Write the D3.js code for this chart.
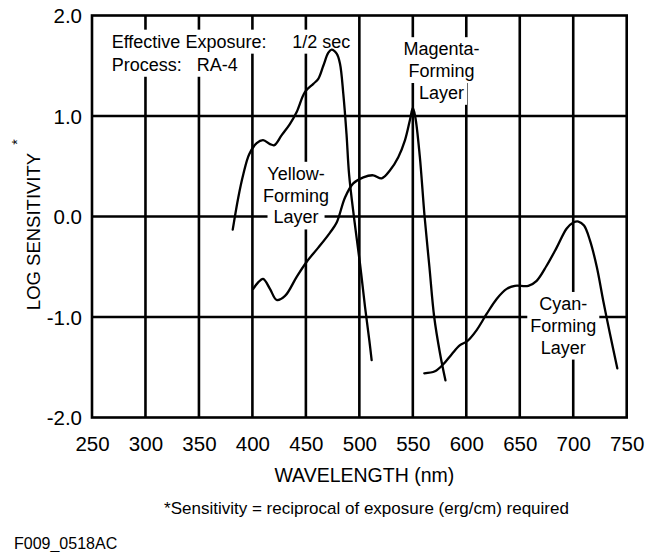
<!DOCTYPE html>
<html>
<head>
<meta charset="utf-8">
<script src="https://cdn.jsdelivr.net/npm/d3@7"></script>
<style>
  html, body { margin: 0; padding: 0; background: #fff; }
  svg { display: block; }
  text { font-family: "Liberation Sans", Arial, Helvetica, sans-serif; fill: #000; }
</style>
</head>
<body>
<svg id="chart" width="663" height="552"></svg>
<script>
// Spectral sensitivity of the three dye-forming layers (log sensitivity vs wavelength)
const wavelengthTicks = [250, 300, 350, 400, 450, 500, 550, 600, 650, 700, 750];
const logTicks = [-2, -1, 0, 1, 2];
const logTickLabels = ["-2.0", "-1.0", "0.0", "1.0", "2.0"];

// [wavelength nm, log sensitivity]
const yellowLayer = [
  [381.6, -0.13], [386.8, 0.19], [391.5, 0.42], [397, 0.62], [404, 0.73],
  [410, 0.76], [416.5, 0.72], [420.5, 0.71], [427.4, 0.81], [435, 0.92],
  [441.4, 1.04], [449.2, 1.24], [457, 1.32], [461.6, 1.37], [466.3, 1.50],
  [471, 1.63], [474, 1.66], [478.8, 1.62], [481.9, 1.52], [485, 1.22],
  [488, 0.82], [490.4, 0.42], [495, -0.01], [500.6, -0.47], [505.3, -0.90],
  [509.3, -1.23], [511.5, -1.43]
];
const magentaLayer = [
  [400.8, -0.72], [405, -0.66], [410, -0.62], [416.4, -0.72], [422.7, -0.83],
  [430.5, -0.79], [441.4, -0.60], [450.8, -0.45], [461.6, -0.31], [472.6, -0.16],
  [478.8, -0.06], [486.6, 0.19], [494.3, 0.33], [503.7, 0.39], [513, 0.41],
  [520.9, 0.38], [528.7, 0.46], [536.4, 0.59], [542.7, 0.76], [547.3, 0.96],
  [550, 1.08], [552.3, 0.99], [556.5, 0.60], [561, 0.0], [565.5, -0.50],
  [570, -1.0], [575.4, -1.36], [580.5, -1.63]
];
const cyanLayer = [
  [560.7, -1.56], [570.7, -1.54], [578.5, -1.47], [586.4, -1.37], [594.1, -1.28],
  [600.9, -1.24], [609.7, -1.13], [619, -0.97], [628.4, -0.82], [637.8, -0.72],
  [645.5, -0.69], [658, -0.69], [665.8, -0.64], [675.1, -0.49], [684.5, -0.31],
  [693.9, -0.12], [700.1, -0.06], [704.8, -0.05], [710.1, -0.09], [715.7, -0.24],
  [722, -0.50], [728.1, -0.84], [734.4, -1.17], [741.2, -1.51]
];

const svg = d3.select("#chart");
const plot = { left: 92, right: 626.7, top: 15.5, bottom: 417.5 };

const x = d3.scaleLinear().domain([250, 750]).range([plot.left, plot.right]);
const y = d3.scaleLinear().domain([-2, 2]).range([plot.bottom, plot.top]);

const gridLayer = svg.append("g");
const boxLayer = svg.append("g");
const curveLayer = svg.append("g");
const textLayer = svg.append("g");

// grid lines
gridLayer.selectAll("line.v")
  .data(wavelengthTicks.slice(1, -1))
  .join("line")
  .attr("x1", d => x(d)).attr("x2", d => x(d))
  .attr("y1", y(2)).attr("y2", y(-2))
  .attr("stroke", "#000").attr("stroke-width", 2.6);
gridLayer.selectAll("line.h")
  .data(logTicks.slice(1, -1))
  .join("line")
  .attr("x1", x(250)).attr("x2", x(750))
  .attr("y1", d => y(d)).attr("y2", d => y(d))
  .attr("stroke", "#000").attr("stroke-width", 2.6);
gridLayer.append("rect")
  .attr("x", x(250)).attr("y", y(2))
  .attr("width", x(750) - x(250)).attr("height", y(-2) - y(2))
  .attr("fill", "none").attr("stroke", "#000").attr("stroke-width", 2.6);

// axes (labels only, lines come from the grid frame)
const xAxis = d3.axisBottom(x).tickValues(wavelengthTicks).tickSize(0).tickPadding(0);
svg.append("g")
  .attr("transform", `translate(0,${y(-2)})`)
  .call(xAxis)
  .call(g => g.select(".domain").remove())
  .call(g => g.selectAll("text")
    .attr("y", 33).attr("dy", 0)
    .style("font-size", "20.5px")
    .style("font-family", '"Liberation Sans", Arial, Helvetica, sans-serif')
    .attr("fill", "#000"));

const yAxis = d3.axisLeft(y).tickValues(logTicks)
  .tickFormat((d, i) => logTickLabels[logTicks.indexOf(d)])
  .tickSize(0).tickPadding(0);
svg.append("g")
  .attr("transform", `translate(${x(250) - 10},0)`)
  .call(yAxis)
  .call(g => g.select(".domain").remove())
  .call(g => g.selectAll("text")
    .attr("x", 0).attr("dy", "0.36em")
    .style("font-size", "20.5px")
    .style("font-family", '"Liberation Sans", Arial, Helvetica, sans-serif')
    .attr("fill", "#000"));

// curves
const line = d3.line()
  .x(d => x(d[0])).y(d => y(d[1]))
  .curve(d3.curveCatmullRom.alpha(0.5));
curveLayer.selectAll("path")
  .data([yellowLayer, magentaLayer, cyanLayer])
  .join("path")
  .attr("d", line)
  .attr("fill", "none")
  .attr("stroke", "#000")
  .attr("stroke-width", 2.3)
  .attr("stroke-linejoin", "round")
  .attr("stroke-linecap", "round");

// text with a white backing that interrupts the grid
function label(str, nm, lg, anchor, size, padX = 3, padY = 2) {
  const t = textLayer.append("text")
    .attr("x", x(nm)).attr("y", y(lg))
    .attr("text-anchor", anchor)
    .style("font-size", size + "px")
    .text(str);
  const b = t.node().getBBox();
  boxLayer.append("rect")
    .attr("x", b.x - padX).attr("y", b.y - padY)
    .attr("width", b.width + 2 * padX).attr("height", b.height + 2 * padY)
    .attr("fill", "#fff");
}

label("Effective Exposure:", 268.4, 1.68, "start", 18);
label("1/2 sec", 437.3, 1.68, "start", 18);
label("Process:", 268.4, 1.45, "start", 18);
label("RA-4", 347.9, 1.45, "start", 18);

const stackGap = 0.217;
["Magenta-", "Forming", "Layer"].forEach((s, i) => label(s, 576.8, 1.605 - i * stackGap, "middle", 18));
["Yellow-", "Forming", "Layer"].forEach((s, i) => label(s, 440.8, 0.365 - i * stackGap, "middle", 18, 6));
["Cyan-", "Forming", "Layer"].forEach((s, i) => label(s, 690.7, -0.93 - i * stackGap, "middle", 18));

// axis titles and notes
svg.append("text")
  .attr("transform", `translate(40,${(y(2) + y(-2)) / 2 + 15}) rotate(-90)`)
  .attr("text-anchor", "middle")
  .style("font-size", "18.5px")
  .text("LOG SENSITIVITY");
svg.append("text")
  .attr("transform", "translate(22,142) rotate(-90)")
  .attr("text-anchor", "middle")
  .style("font-size", "14px")
  .text("*");

svg.append("text")
  .attr("x", (x(250) + x(750)) / 2 + 5).attr("y", 482)
  .attr("text-anchor", "middle")
  .style("font-size", "19.5px")
  .text("WAVELENGTH (nm)");

svg.append("text")
  .attr("x", 366.5).attr("y", 514)
  .attr("text-anchor", "middle")
  .style("font-size", "17px")
  .text("*Sensitivity = reciprocal of exposure (erg/cm) required");

svg.append("text")
  .attr("x", 14).attr("y", 549)
  .style("font-size", "16px")
  .text("F009_0518AC");
</script>
</body>
</html>
